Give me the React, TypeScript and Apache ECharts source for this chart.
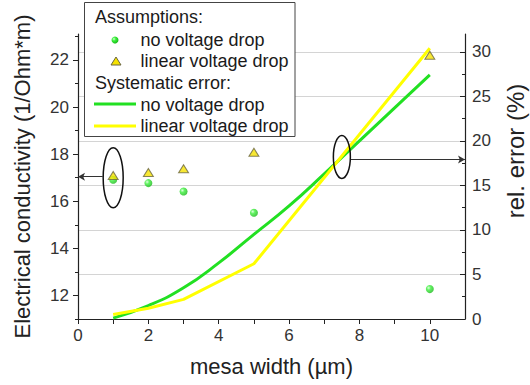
import React, { useEffect, useRef } from 'react';
import * as echarts from 'echarts';

// ---- data ----
const mesaWidths = [1, 2, 3, 5, 10];
const sigmaNoDrop = [16.91, 16.77, 16.41, 15.51, 12.27];
const sigmaLinearDrop = [17.09, 17.22, 17.38, 18.08, 22.2];

const errNoDropWidths = [1, 2, 3, 4, 5, 6, 7, 8, 9, 10];
const errNoDrop = [0.1, 1.5, 3.5, 6.3, 9.5, 12.7, 16.3, 20.0, 23.7, 27.4];
const errLinearWidths = [1, 2, 3, 5, 10];
const errLinearDrop = [0.5, 1.2, 2.2, 6.2, 30.4];

const xTickLabels = [0, 2, 4, 6, 8, 10];
const xTicks = [0, 1, 2, 3, 4, 5, 6, 7, 8, 9, 10];
const leftTickLabels = [12, 14, 16, 18, 20, 22];
const leftMinorTicks = [11, 13, 15, 17, 19, 21, 23];
const rightTickLabels = [0, 5, 10, 15, 20, 25, 30];
const rightMinorTicks = [2.5, 7.5, 12.5, 17.5, 22.5, 27.5];

const FONT = '"Liberation Sans", Arial, sans-serif';
const GREEN = '#22e022';
const YELLOW = '#ffff00';
const AXIS = '#222';

const GRID = { left: 78, right: 65, top: 34, bottom: 66 };

const greenBall = {
  type: 'radial', x: 0.35, y: 0.35, r: 0.75,
  colorStops: [
    { offset: 0, color: '#d8ffd8' },
    { offset: 0.35, color: '#3cf03c' },
    { offset: 1, color: '#14b014' },
  ],
};

export default function App() {
  const ref = useRef<HTMLDivElement>(null);
  useEffect(() => {
    if (!ref.current) return;
    const chart = echarts.init(ref.current, null, { renderer: 'svg' });
    const labelStyle = { fontFamily: FONT, fontSize: 17, color: '#333' };
    const option: any = {
      animation: false,
      backgroundColor: '#fff',
      grid: [
        { ...GRID, containLabel: false },
        { ...GRID, containLabel: false },
      ],
      xAxis: [
        {
          type: 'value', gridIndex: 0, min: 0, max: 11,
          name: 'mesa width (µm)', nameLocation: 'middle', nameGap: 36,
          nameTextStyle: { fontFamily: FONT, fontSize: 22, color: '#222' },
          axisLine: { show: true, lineStyle: { color: AXIS, width: 1.2 } },
          axisTick: { show: true, inside: false, length: 5, customValues: xTicks, lineStyle: { color: AXIS } },
          axisLabel: { ...labelStyle, margin: 8, customValues: xTickLabels },
          splitLine: { show: false },
        },
        {
          type: 'value', gridIndex: 1, min: 0, max: 11, show: false,
        },
      ],
      yAxis: [
        {
          type: 'value', gridIndex: 0, position: 'left', min: 11, max: 23.1,
          name: 'Electrical conductivity (1/Ohm*m)', nameLocation: 'middle', nameGap: 45,
          nameTextStyle: { fontFamily: FONT, fontSize: 22, color: '#222' },
          axisLine: { show: true, lineStyle: { color: AXIS, width: 1.2 } },
          axisTick: { show: true, inside: false, length: 5, customValues: leftTickLabels, lineStyle: { color: AXIS } },
          axisLabel: { ...labelStyle, margin: 9, customValues: leftTickLabels },
          splitLine: { show: false },
        },
        {
          type: 'value', gridIndex: 0, position: 'right', min: 0, max: 32,
          axisLine: { show: true, lineStyle: { color: AXIS, width: 1.2 } },
          axisTick: { show: true, inside: true, length: 5, customValues: rightTickLabels, lineStyle: { color: AXIS } },
          axisLabel: { ...labelStyle, margin: 7, customValues: rightTickLabels },
          splitLine: { show: true, lineStyle: { color: '#d4d4d4', width: 1 } },
        },
        {
          type: 'value', gridIndex: 1, position: 'left', min: 11, max: 23.1,
          axisLine: { show: false },
          axisTick: { show: true, inside: false, length: 3, customValues: leftMinorTicks, lineStyle: { color: AXIS } },
          axisLabel: { show: false },
          splitLine: { show: false },
        },
        {
          type: 'value', gridIndex: 1, position: 'right', min: 0, max: 32,
          axisLine: { show: false },
          axisTick: { show: true, inside: true, length: 3, customValues: rightMinorTicks, lineStyle: { color: AXIS } },
          axisLabel: { show: false },
          splitLine: { show: false },
        },
      ],
      series: [
        {
          name: 'err no voltage drop', type: 'line', xAxisIndex: 0, yAxisIndex: 1,
          data: errNoDropWidths.map((x, i) => [x, errNoDrop[i]]),
          smooth: true, showSymbol: false, symbol: 'none',
          lineStyle: { color: GREEN, width: 3 }, z: 2,
          markLine: {
            silent: true, symbol: ['none', 'arrow'], symbolSize: [6, 7],
            label: { show: false },
            lineStyle: { color: '#333', width: 1, type: 'solid' },
            data: [[{ coord: [7.74, 17.9] }, { coord: [11, 17.9] }]],
          },
        },
        {
          name: 'err linear voltage drop', type: 'line', xAxisIndex: 0, yAxisIndex: 1,
          data: errLinearWidths.map((x, i) => [x, errLinearDrop[i]]),
          showSymbol: false, symbol: 'none',
          lineStyle: { color: YELLOW, width: 3 }, z: 3,
        },
        {
          name: 'no voltage drop', type: 'scatter', xAxisIndex: 0, yAxisIndex: 0,
          data: mesaWidths.map((x, i) => [x, sigmaNoDrop[i]]),
          symbol: 'circle', symbolSize: 8,
          itemStyle: { color: greenBall as any }, z: 4,
          markLine: {
            silent: true, symbol: ['none', 'arrow'], symbolSize: [6, 7],
            label: { show: false },
            lineStyle: { color: '#333', width: 1, type: 'solid' },
            data: [[{ coord: [0.7, 17.04] }, { coord: [0, 17.04] }]],
          },
        },
        {
          name: 'linear voltage drop', type: 'scatter', xAxisIndex: 0, yAxisIndex: 0,
          data: mesaWidths.map((x, i) => [x, sigmaLinearDrop[i]]),
          symbol: 'triangle', symbolSize: [10, 8],
          itemStyle: { color: '#f6e200', borderColor: '#6a6640', borderWidth: 1 }, z: 5,
        },
      ],
    };
    chart.setOption(option);

    const e1 = chart.convertToPixel({ xAxisIndex: 0, yAxisIndex: 0 }, [1, 17.0]) as number[];
    const e2 = chart.convertToPixel({ xAxisIndex: 0, yAxisIndex: 1 }, [7.5, 18.2]) as number[];
    const tStyle = (text: string) => ({ text, font: `18px ${FONT}`, fill: '#1a1a1a', verticalAlign: 'middle' });
    const graphic: any[] = [
      {
        type: 'text', x: 515, y: 151, rotation: Math.PI / 2, z: 10,
        style: { text: 'rel. error (%)', font: `24px ${FONT}`, fill: '#222', align: 'center', verticalAlign: 'middle' },
      },
      {
        type: 'ellipse', shape: { cx: e1[0], cy: e1[1], rx: 10, ry: 30 },
        style: { fill: 'none', stroke: '#111', lineWidth: 1.5 }, z: 20,
      },
      {
        type: 'ellipse', shape: { cx: e2[0], cy: e2[1], rx: 8.5, ry: 21.5 },
        style: { fill: 'none', stroke: '#111', lineWidth: 1.5 }, z: 20,
      },
      {
        type: 'group', z: 30,
        children: [
          { type: 'rect', shape: { x: 84.5, y: 2.5, width: 210.5, height: 134 }, style: { fill: '#fff', stroke: '#444', lineWidth: 1 } },
          { type: 'text', x: 95, y: 17, style: tStyle('Assumptions:') },
          { type: 'circle', shape: { cx: 115, cy: 40, r: 3.5 }, style: { fill: greenBall } },
          { type: 'text', x: 140.5, y: 39.5, style: tStyle('no voltage drop') },
          { type: 'polygon', shape: { points: [[111, 65], [121, 65], [116, 57]] }, style: { fill: '#f6e200', stroke: '#6a6640', lineWidth: 1 } },
          { type: 'text', x: 140.5, y: 61, style: tStyle('linear voltage drop') },
          { type: 'text', x: 95, y: 83, style: tStyle('Systematic error:') },
          { type: 'line', shape: { x1: 94, y1: 104, x2: 136, y2: 104 }, style: { stroke: GREEN, lineWidth: 3 } },
          { type: 'text', x: 140.5, y: 104.5, style: tStyle('no voltage drop') },
          { type: 'line', shape: { x1: 94, y1: 126, x2: 136, y2: 126 }, style: { stroke: YELLOW, lineWidth: 3 } },
          { type: 'text', x: 140.5, y: 126, style: tStyle('linear voltage drop') },
        ],
      },
    ];
    chart.setOption({ graphic });
    return () => chart.dispose();
  }, []);
  return (
    <div
      ref={ref}
      style={{ position: 'fixed', left: 0, top: 0, width: 530, height: 385, background: '#fff' }}
    />
  );
}
